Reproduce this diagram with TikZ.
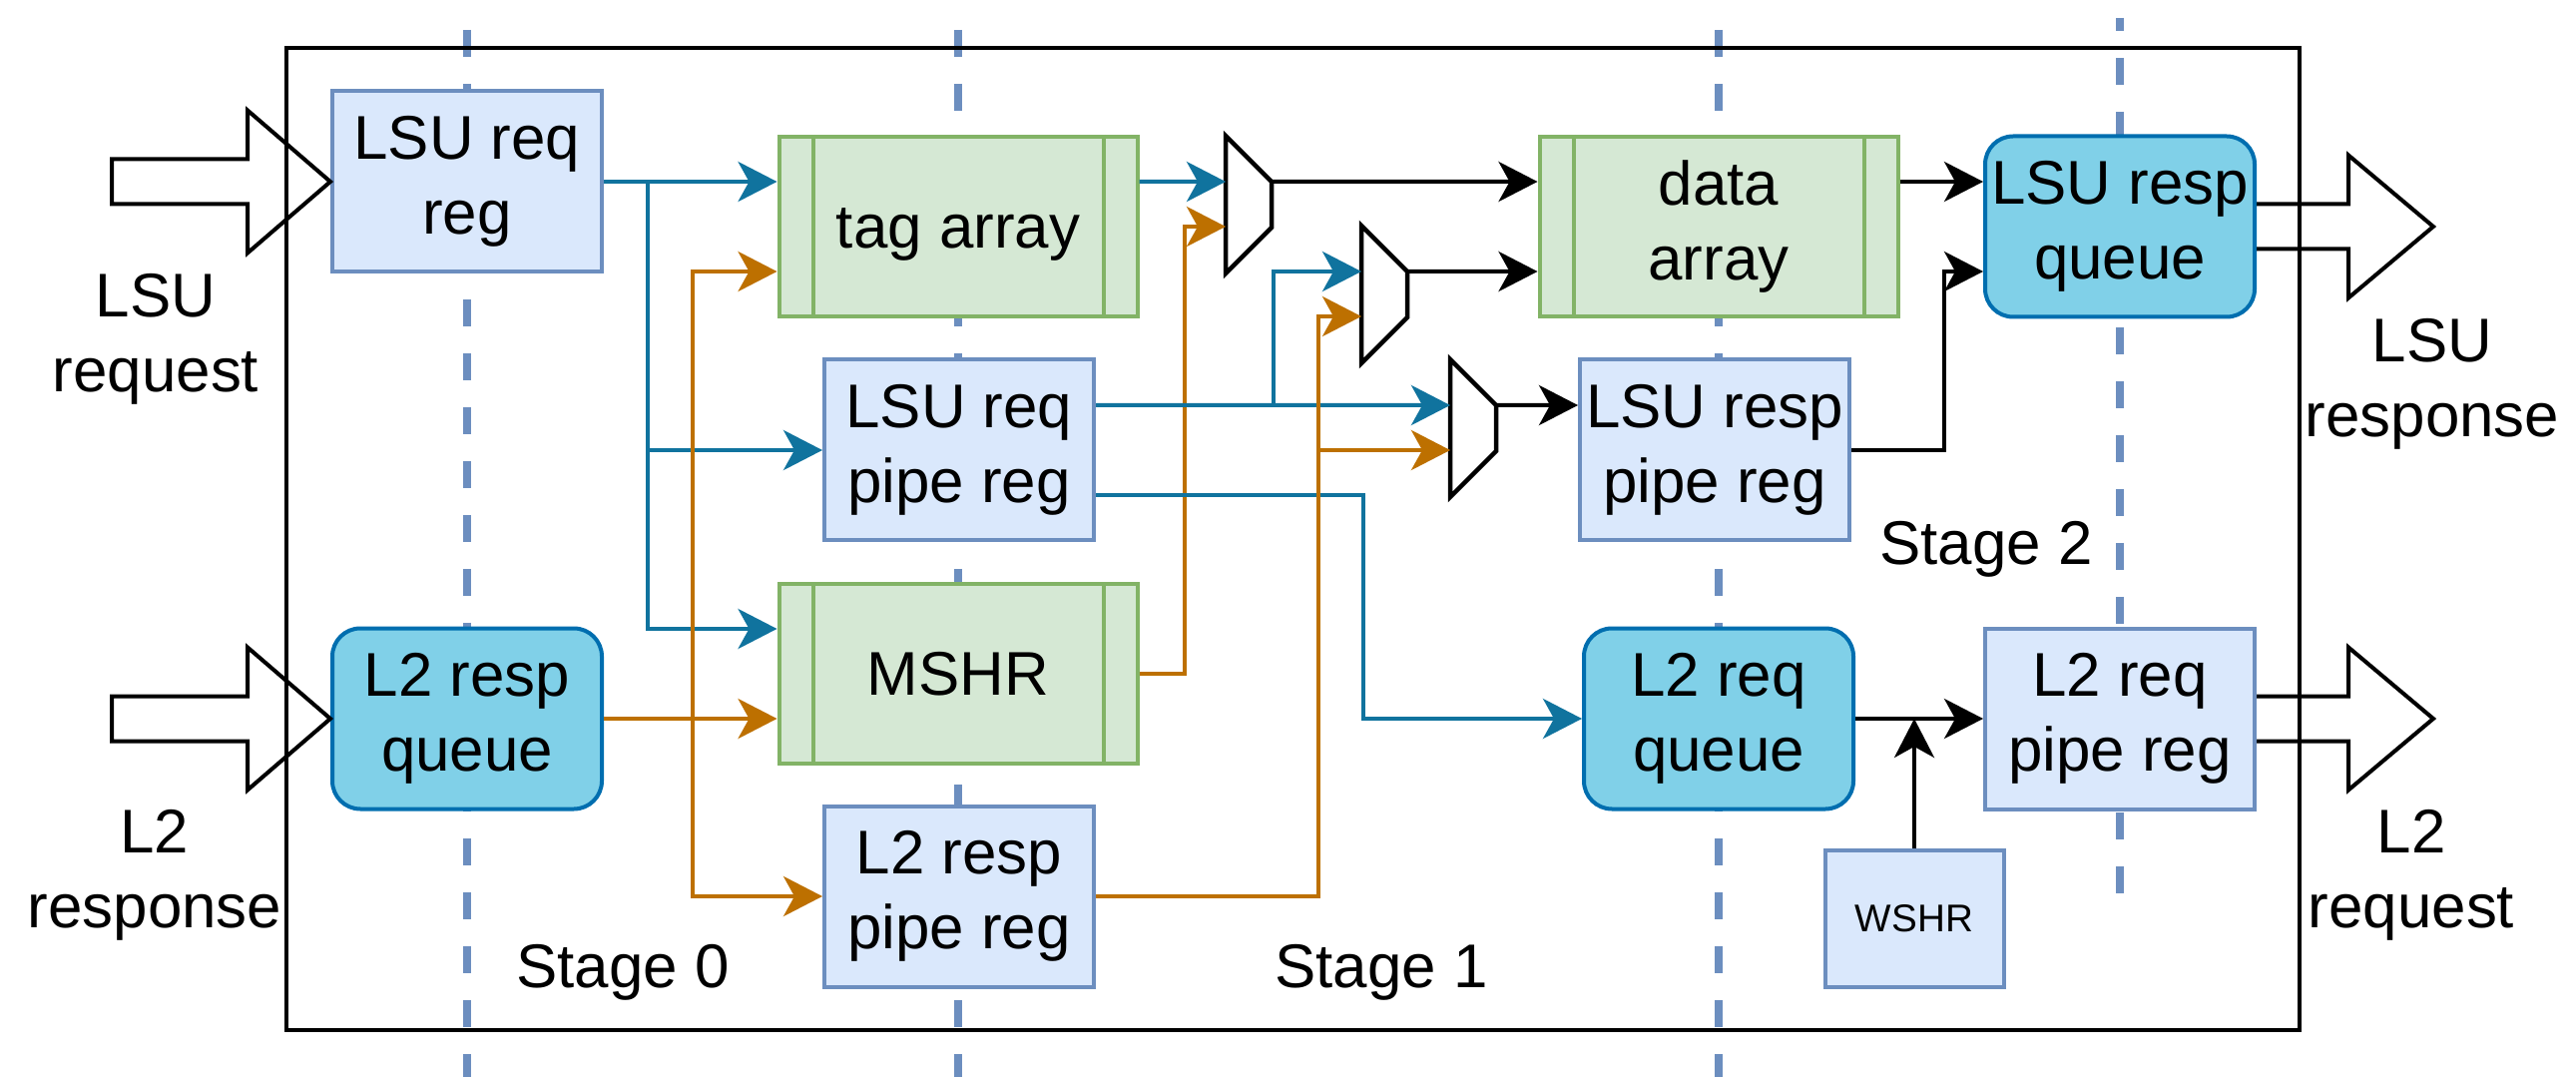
\documentclass[tikz,border=0pt]{standalone}
\usepackage{fontspec}
\setmainfont{Liberation Sans}
\usetikzlibrary{positioning,arrows.meta,calc}
\definecolor{regfill}{HTML}{DAE8FC}
\definecolor{regline}{HTML}{6C8EBF}
\definecolor{sramfill}{HTML}{D5E8D4}
\definecolor{sramline}{HTML}{82B366}
\definecolor{qfill}{HTML}{80D0E8}
\definecolor{qline}{HTML}{006EAF}
\definecolor{reqblue}{HTML}{10739E}
\definecolor{respor}{HTML}{BD7000}
\newcommand{\lnstrut}{\rule[-0.21em]{0pt}{1.115em}}
\newcommand{\plfont}{\fontsize{17.6pt}{21.3pt}\selectfont}
\tikzset{
  pl/.style={align=center, inner sep=0pt, font=\plfont,
             execute at begin node={\lnstrut}, execute at end node={\lnstrut}},
  pl reg/.style={pl, draw=regline, fill=regfill, line width=0.4mm, minimum width=27mm, minimum height=18.1mm},
  pl sram/.style={pl, draw=sramline, fill=sramfill, line width=0.4mm, minimum width=35.9mm, minimum height=18mm},
  pl queue/.style={pl, draw=qline, fill=qfill, line width=0.4mm, rounded corners=2.8mm, minimum width=27mm, minimum height=18.1mm},
  pl mux/.style={draw=black, fill=white, line width=0.45mm},
  pl wire/.style={-{Stealth[length=3.9mm, width=4mm, inset=1.1mm]}, line width=0.4mm, black},
  pl req/.style={pl wire, reqblue},
  pl resp/.style={pl wire, respor},
  pl stage/.style={regline, line width=0.8mm, dash pattern=on 2.7mm off 2.7mm},
  pl port/.style={draw=black, line width=0.4mm},
}

\begin{document}
\begin{tikzpicture}[x=0.1mm, y=-0.1mm]
  \useasboundingbox (0,0) rectangle (2581,1079);
  % stage boundaries
  \foreach \sx/\sy/\ey/\ph in {468/30/1079/0mm, 960/30/1079/0mm, 1722/30/1079/0mm, 2124/18/919/1.4mm}
     \draw[pl stage, dash phase=\ph] (\sx,\sy) -- (\sx,\ey);
  \draw[line width=0.4mm] (287,48) rectangle (2304,1032);

  \node[pl reg] (lsureq) at (468,182) {LSU req\\reg};
  \node[pl queue] (l2rq) at (468,720) {L2 resp\\queue};
  \node[pl sram] (tag) at (960,227) {tag array};
  \node[pl reg] (lsupipe) at (961,451) {LSU req\\pipe reg};
  \node[pl sram] (mshr) at (960,675) {MSHR};
  \node[pl reg] (l2pipe) at (961,898) {L2 resp\\pipe reg};
  \node[pl sram] (data) at (1722,227) {data\\array};
  \node[pl reg] (lsurpipe) at (1718,451) {LSU resp\\pipe reg};
  \node[pl queue] (l2reqq) at (1722,720) {L2 req\\queue};
  \node[pl queue] (lsuq) at (2124,227) {LSU resp\\queue};
  \node[pl reg] (l2reqpipe) at (2124,720) {L2 req\\pipe reg};
  \node[pl reg, minimum width=17.9mm, minimum height=13.7mm, font=\fontsize{11pt}{14pt}\selectfont] (wshr) at (1918,920) {WSHR};
  \foreach \b in {tag,mshr,data} {
     \draw[sramline, line width=0.4mm] ([xshift=3.6mm]\b.north west) -- ([xshift=3.6mm]\b.south west);
     \draw[sramline, line width=0.4mm] ([xshift=-3.6mm]\b.north east) -- ([xshift=-3.6mm]\b.south east);
  }

  % muxes
  \foreach \nm/\mx/\my in {muxA/1228/136, muxB/1364/226, muxC/1453/360} {
     \draw[pl mux] (\mx,\my) -- ++(46,46) -- ++(0,46) -- ++(-46,46) -- cycle;
     \coordinate (\nm-i1) at (\mx,\my+46);
     \coordinate (\nm-i2) at (\mx,\my+91);
     \coordinate (\nm-out) at (\mx+46,\my+46);
  }

  % ports
  \foreach \tp in {lsureq,l2rq}
     \draw[pl port] (\tp.west) -- ++(-83,-71.5) -- ++(0,49) -- ++(-136,0) -- ++(0,45) -- ++(136,0) -- ++(0,49) -- cycle;
  \foreach \tp in {lsuq,l2reqpipe}
     \draw[pl port] ([yshift=2.25mm]\tp.east) -- ++(92,0) -- ++(0,-49) -- ++(85,71.5) -- ++(-85,71.5) -- ++(0,-49) -- ++(-92,0);
  \node[pl] (lsureqlbl) at (156,340) {LSU\\request};
  \node[pl] (l2resplbl) at (155,877) {L2\\response};
  \node[pl] (lsuresplbl) at (2437,385) {LSU\\response};
  \node[pl] (l2reqlbl) at (2416,877) {L2\\request};
  \node[pl] (st0) at (624,968) {Stage 0};
  \node[pl] (st1) at (1384,968) {Stage 1};
  \node[pl] (st2) at (1990,544) {Stage 2};

  % stage 0 -> stage 1
  \draw[pl req] (lsureq.east) -- (lsureq.east -| tag.west);
  \coordinate (reqfork) at ([xshift=4.4mm]lsureq.east);
  \draw[pl req] (reqfork) |- (lsupipe.west);
  \draw[pl req] (reqfork) |- ([yshift=4.5mm]mshr.west);
  \draw[pl resp] (l2rq.east) -- (l2rq.east -| mshr.west);
  \coordinate (respfork) at ([xshift=8.9mm]l2rq.east);
  \draw[pl resp] (respfork) |- ([yshift=-4.5mm]tag.west);
  \draw[pl resp] (respfork) |- (l2pipe.west);

  % stage 1 -> stage 2
  \draw[pl req] ([yshift=4.5mm]tag.east) -- (muxA-i1);
  \draw[pl resp] (mshr.east) -- ++(45,0) |- (muxA-i2);
  \draw[pl req] ([yshift=4.5mm]lsupipe.east) -- (muxC-i1);
  \coordinate (pipefork) at ([xshift=17.8mm,yshift=4.5mm]lsupipe.east);
  \draw[pl req] (pipefork) |- (muxB-i1);
  \draw[pl req] ([yshift=-4.5mm]lsupipe.east) -- ++(268,0) |- (l2reqq.west);
  \draw[pl resp] (l2pipe.east) -- ++(223,0) coordinate (l2fork) |- (muxB-i2);
  \draw[pl resp] (l2fork |- muxC-i2) -- (muxC-i2);
  \draw[pl wire] (muxA-out) -- ([yshift=4.5mm]data.west);
  \draw[pl wire] (muxB-out) -- ([yshift=-4.5mm]data.west);
  \draw[pl wire] (muxC-out) -- ([yshift=4.5mm]lsurpipe.west);

  % stage 2 -> out
  \draw[pl wire] ([yshift=4.5mm]data.east) -- ([yshift=4.5mm]lsuq.west);
  \draw[pl wire] (lsurpipe.east) -- ++(93,0) |- ([yshift=-4.5mm]lsuq.west);
  \draw[pl wire] (l2reqq.east) -- (l2reqpipe.west);
  \draw[pl wire] (wshr.north) -- (wshr.north |- l2reqq.east);
\end{tikzpicture}
\end{document}
